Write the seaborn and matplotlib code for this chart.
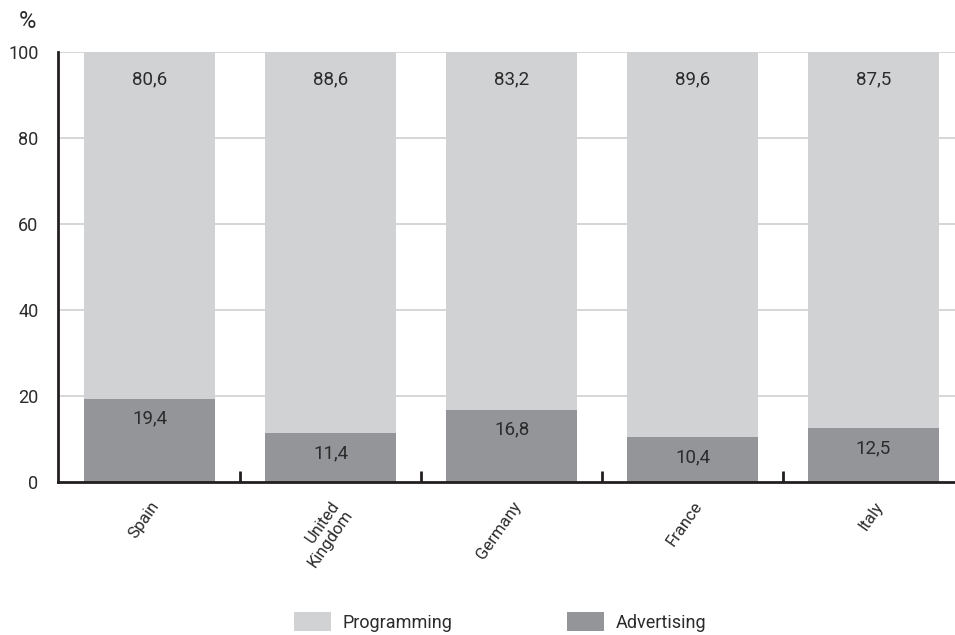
import matplotlib
matplotlib.use("Agg")
import matplotlib.pyplot as plt
import seaborn as sns
import pandas as pd
from matplotlib.patches import Patch

countries = ["Spain", "United\nKingdom", "Germany", "France", "Italy"]
programming = [80.6, 88.6, 83.2, 89.6, 87.5]
advertising = [19.4, 11.4, 16.8, 10.4, 12.5]
yticks = [0, 20, 40, 60, 80, 100]

prog_color = "#d1d2d4"
adv_color = "#939598"
text_color = "#2b2b2b"
axis_color = "#231f20"

sns.set_theme(style="white")
plt.rcParams["font.family"] = ["Roboto", "DejaVu Sans"]

df = pd.DataFrame({
    "country": countries,
    "programming": programming,
    "advertising": advertising,
})
df["total"] = df["programming"] + df["advertising"]

fig = plt.figure(figsize=(9.55, 6.35), dpi=100)
ax = fig.add_axes([58 / 955, 1 - 482 / 635, 1 - 58 / 955, (482 - 52) / 635])

for y in yticks[1:]:
    ax.axhline(y, color="#d3d3d3", lw=1.3, zorder=0)

sns.barplot(data=df, x="country", y="total", color=prog_color, width=0.724,
            saturation=1, linewidth=0, edgecolor="none", ax=ax, zorder=2)
sns.barplot(data=df, x="country", y="advertising", color=adv_color, width=0.724,
            saturation=1, linewidth=0, edgecolor="none", ax=ax, zorder=3)

for i, (p, a) in enumerate(zip(programming, advertising)):
    total = p + a
    ax.annotate(f"{p:.1f}".replace(".", ","), (i, total), xytext=(0, -27),
                textcoords="offset pixels", ha="center", va="center",
                fontsize=13.5, color=text_color, zorder=4)
    ax.annotate(f"{a:.1f}".replace(".", ","), (i, a), xytext=(0, -20),
                textcoords="offset pixels", ha="center", va="center",
                fontsize=13.5, color=text_color, zorder=4)

ax.set_xlim(-0.506, 4.45)
ax.set_ylim(0, 100)
ax.set_yticks(yticks)
ax.set_yticklabels([str(v) for v in yticks], fontsize=13, color=text_color)
ax.set_xlabel("")
ax.set_ylabel("")

ax.set_xticks(range(len(countries)))
ax.set_xticklabels(countries, rotation=55, ha="right", rotation_mode="anchor",
                   fontsize=12, color=text_color, linespacing=1.0)
ax.set_xticks([0.5, 1.5, 2.5, 3.5], minor=True)
ax.tick_params(axis="x", which="major", bottom=True, length=0, pad=12)
ax.tick_params(axis="x", which="minor", bottom=True, direction="in", length=8,
               width=2.0, color=axis_color)
ax.tick_params(axis="y", length=0, pad=14)

for side in ["top", "right"]:
    ax.spines[side].set_visible(False)
for side in ["left", "bottom"]:
    ax.spines[side].set_color(axis_color)
    ax.spines[side].set_linewidth(2.0)
    ax.spines[side].set_zorder(5)

fig.text(27 / 955, 1 - 21 / 635, "%", fontsize=17, color=text_color,
         ha="center", va="center")

handles = [Patch(facecolor=prog_color, edgecolor="none", label="Programming"),
           Patch(facecolor=adv_color, edgecolor="none", label="Advertising")]
fig.legend(handles=handles, loc="center", bbox_to_anchor=(500 / 955, 1 - 622 / 635),
           ncol=2, frameon=False, fontsize=13, handlelength=2.05,
           handleheight=1.25, handletextpad=0.65, columnspacing=6.3,
           labelcolor=text_color)

fig.savefig("out.png", dpi=100)
